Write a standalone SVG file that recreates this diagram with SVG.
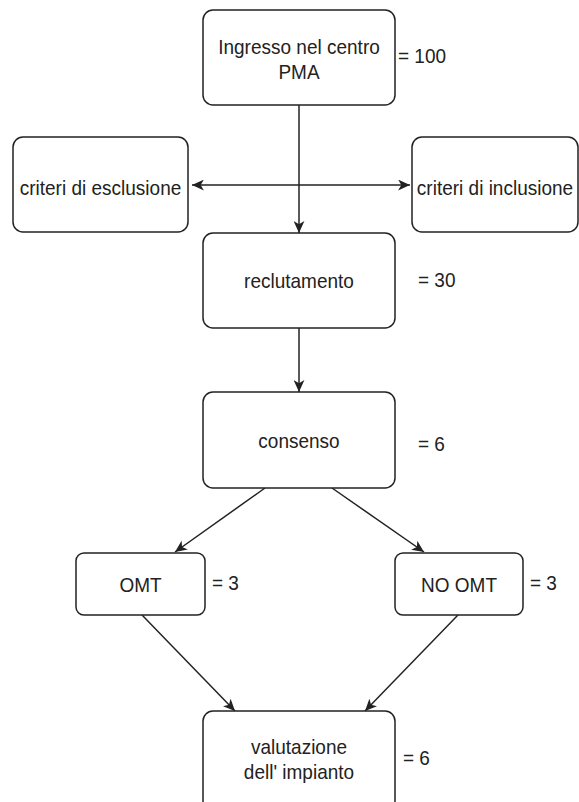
<svg xmlns="http://www.w3.org/2000/svg" width="579" height="802" viewBox="0 0 579 802">
<defs>
<style>
.box{fill:#ffffff;stroke:#222222;stroke-width:1.5}
.lbl{font-family:"Liberation Sans",Arial,sans-serif;font-size:19px;fill:#222222;text-anchor:middle}
.cnt{font-family:"Liberation Sans",Arial,sans-serif;font-size:19px;fill:#222222;text-anchor:start}
.edge{fill:none;stroke:#222222;stroke-width:1.5}
</style>
<marker id="arr" viewBox="0 0 12 10" refX="11" refY="5" markerWidth="13" markerHeight="11" markerUnits="userSpaceOnUse" orient="auto-start-reverse">
<path d="M0,0 L11,5 L0,10 L3,5 z" fill="#222222"/>
</marker>
</defs>
<rect width="579" height="802" fill="#ffffff"/>
<g id="connectors">
<path class="edge" d="M299,105 L299,233" marker-end="url(#arr)"/>
<path class="edge" d="M192,185 L410,185" marker-start="url(#arr)" marker-end="url(#arr)"/>
<path class="edge" d="M299,328 L299,392" marker-end="url(#arr)"/>
<path class="edge" d="M265,488 L175,552" marker-end="url(#arr)"/>
<path class="edge" d="M332,488 L424,552" marker-end="url(#arr)"/>
<path class="edge" d="M142,615 L235,711" marker-end="url(#arr)"/>
<path class="edge" d="M458,615 L365,711" marker-end="url(#arr)"/>
</g>
<g id="ingresso">
<rect class="box" x="203" y="10" width="192" height="95" rx="10"/>
<text class="lbl" transform="translate(299,54) scale(1,1.1)">Ingresso nel centro</text>
<text class="lbl" transform="translate(299,79) scale(1,1.1)">PMA</text>
<text class="cnt" transform="translate(398,63) scale(1,1.1)">= 100</text>
</g>
<g id="esclusione">
<rect class="box" x="13" y="137" width="175" height="95" rx="10"/>
<text class="lbl" transform="translate(100.5,195) scale(1,1.1)">criteri di esclusione</text>
</g>
<g id="inclusione">
<rect class="box" x="412" y="137" width="166" height="95" rx="10"/>
<text class="lbl" transform="translate(495,195) scale(1,1.1)">criteri di inclusione</text>
</g>
<g id="reclutamento">
<rect class="box" x="203" y="233" width="192" height="95" rx="10"/>
<text class="lbl" transform="translate(299,288) scale(1,1.1)">reclutamento</text>
<text class="cnt" transform="translate(418,287) scale(1,1.1)">= 30</text>
</g>
<g id="consenso">
<rect class="box" x="203" y="392" width="192" height="96" rx="10"/>
<text class="lbl" transform="translate(299,448) scale(1,1.1)">consenso</text>
<text class="cnt" transform="translate(418,451) scale(1,1.1)">= 6</text>
</g>
<g id="omt">
<rect class="box" x="76" y="553" width="129" height="62" rx="8"/>
<text class="lbl" transform="translate(140.5,592) scale(1,1.1)">OMT</text>
<text class="cnt" transform="translate(212,590) scale(1,1.1)">= 3</text>
</g>
<g id="no-omt">
<rect class="box" x="395" y="553" width="128" height="62" rx="8"/>
<text class="lbl" transform="translate(459,592) scale(1,1.1)">NO OMT</text>
<text class="cnt" transform="translate(530,590) scale(1,1.1)">= 3</text>
</g>
<g id="valutazione">
<rect class="box" x="203" y="711" width="192" height="100" rx="10"/>
<text class="lbl" transform="translate(299,754) scale(1,1.1)">valutazione</text>
<text class="lbl" transform="translate(299,779) scale(1,1.1)">dell' impianto</text>
<text class="cnt" transform="translate(403,765) scale(1,1.1)">= 6</text>
</g>
</svg>
